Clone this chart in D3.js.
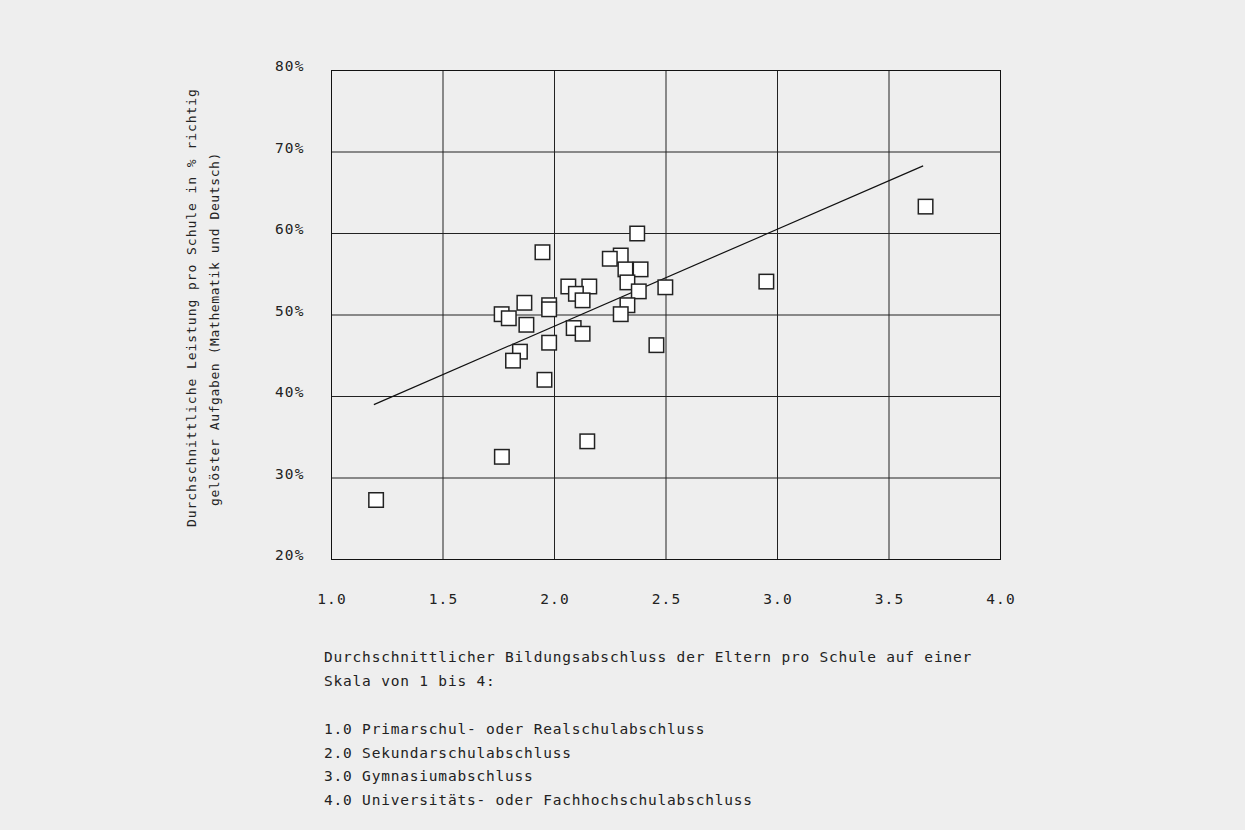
<!DOCTYPE html>
<html>
<head>
<meta charset="utf-8">
<script src="https://cdn.jsdelivr.net/npm/d3@7"></script>
<style>
    body { margin: 0; background: #eeeeee; }
    text { font-family: "DejaVu Sans Mono", monospace; fill: #222; }
</style>
</head>
<body>
<div id="chart"></div>
<script>
// Elternbildung (x) vs. Leistung pro Schule in % (y)
const educ = [2.371, 3.664, 1.946, 2.297, 2.248, 2.318, 2.386, 2.327, 2.95, 2.062, 2.156,
    2.497, 2.378, 2.096, 2.126, 1.865, 1.976, 2.327, 1.976, 1.763, 2.297, 1.795,
    1.874, 2.086, 2.126, 1.976, 2.457, 1.845, 1.814, 1.955, 2.147, 1.764, 1.20];
const score = [60.0, 63.3, 57.7, 57.3, 56.9, 55.6, 55.6, 54.0, 54.1, 53.5, 53.5,
    53.4, 52.9, 52.6, 51.8, 51.5, 51.2, 51.2, 50.7, 50.1, 50.1, 49.6,
    48.8, 48.4, 47.7, 46.6, 46.3, 45.5, 44.4, 42.05, 34.5, 32.6, 27.3];

// Regressionsgerade (Endpunkte)
const trendX = [1.19, 3.653];
const trendY = [39.0, 68.3];

const xTicks = [1.0, 1.5, 2.0, 2.5, 3.0, 3.5, 4.0];
const yTicks = [20, 30, 40, 50, 60, 70, 80];

const yTitle = [
    "Durchschnittliche Leistung pro Schule in % richtig",
    "gelöster Aufgaben (Mathematik und Deutsch)"
];
const legendLines = [
    "Durchschnittlicher Bildungsabschluss der Eltern pro Schule auf einer",
    "Skala von 1 bis 4:",
    "",
    "1.0 Primarschul- oder Realschulabschluss",
    "2.0 Sekundarschulabschluss",
    "3.0 Gymnasiumabschluss",
    "4.0 Universitäts- oder Fachhochschulabschluss"
];

const WIDTH = 1245, HEIGHT = 830;
const PLOT = { left: 331.5, right: 1000.5, top: 70.5, bottom: 559.5 };
const BOX = 14.5;

const svg = d3.select("#chart")
    .append("svg")
    .attr("width", WIDTH)
    .attr("height", HEIGHT);

svg.append("rect")
    .attr("width", WIDTH)
    .attr("height", HEIGHT)
    .attr("fill", "#eeeeee");

const x = d3.scaleLinear().domain([1, 4]).range([PLOT.left, PLOT.right]);
const y = d3.scaleLinear().domain([20, 80]).range([PLOT.bottom, PLOT.top]);

// Gitter
svg.append("g")
    .selectAll("line")
    .data(xTicks)
    .join("line")
    .attr("x1", d => x(d)).attr("x2", d => x(d))
    .attr("y1", PLOT.top).attr("y2", PLOT.bottom)
    .attr("stroke", "#222").attr("stroke-width", 1);

svg.append("g")
    .selectAll("line")
    .data(yTicks)
    .join("line")
    .attr("x1", PLOT.left).attr("x2", PLOT.right)
    .attr("y1", d => y(d)).attr("y2", d => y(d))
    .attr("stroke", "#222").attr("stroke-width", 1);

// Achsenbeschriftung
svg.append("g")
    .selectAll("text")
    .data(xTicks)
    .join("text")
    .attr("x", d => x(d) + 0.6)
    .attr("y", 604.3)
    .attr("text-anchor", "middle")
    .style("font-size", "14.5px")
    .style("letter-spacing", "1.2px")
    .text(d => d.toFixed(1));

svg.append("g")
    .selectAll("text")
    .data(yTicks)
    .join("text")
    .attr("x", 275)
    .attr("y", d => y(d) + 0.5)
    .style("font-size", "14.5px")
    .style("letter-spacing", "1.1px")
    .text(d => d + "%");

// Regressionsgerade
svg.append("line")
    .attr("x1", x(trendX[0])).attr("y1", y(trendY[0]))
    .attr("x2", x(trendX[1])).attr("y2", y(trendY[1]))
    .attr("stroke", "#111")
    .attr("stroke-width", 1.2);

// Schulen
svg.append("g")
    .selectAll("rect")
    .data(educ.map((e, i) => ({ e, s: score[i] })))
    .join("rect")
    .attr("x", d => x(d.e) - BOX / 2)
    .attr("y", d => y(d.s) - BOX / 2)
    .attr("width", BOX)
    .attr("height", BOX)
    .attr("fill", "#fff")
    .attr("stroke", "#222")
    .attr("stroke-width", 1.5);

// y-Titel
const yStarts = [[195.5, 527, 0.95], [219, 506, 0.6]];
svg.append("g")
    .selectAll("text")
    .data(yTitle)
    .join("text")
    .attr("transform", (d, i) => `translate(${yStarts[i][0]}, ${yStarts[i][1]}) rotate(-90)`)
    .style("font-size", "13px")
    .style("letter-spacing", (d, i) => yStarts[i][2] + "px")
    .text(d => d);

// Legende
svg.append("g")
    .selectAll("text")
    .data(legendLines)
    .join("text")
    .attr("x", 324)
    .attr("y", (d, i) => 662.3 + i * 23.8)
    .style("font-size", "14.5px")
    .style("letter-spacing", "0.8px")
    .text(d => d);

// Rahmen
svg.append("rect")
    .attr("x", PLOT.left).attr("y", PLOT.top)
    .attr("width", PLOT.right - PLOT.left)
    .attr("height", PLOT.bottom - PLOT.top)
    .attr("fill", "none")
    .attr("stroke", "#111");
</script>
</body>
</html>
